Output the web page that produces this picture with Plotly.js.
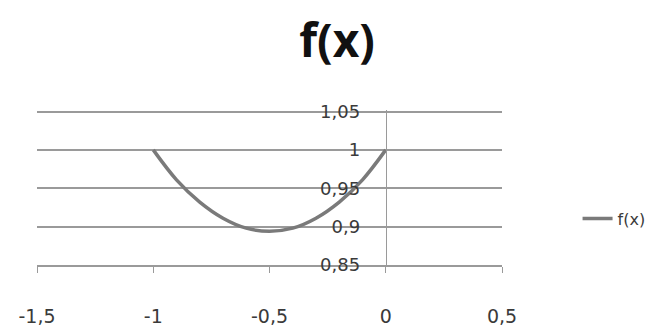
<!DOCTYPE html>
<html>
<head>
<meta charset="utf-8">
<script src="https://cdn.plot.ly/plotly-3.0.1.min.js"></script>
<style>html,body{margin:0;padding:0;background:#fff;}#chart{width:661px;height:326px;}</style>
</head>
<body>
<div id="chart"></div>
<script>
// Data
const xValues = [-1, -0.9, -0.8, -0.7, -0.6, -0.5, -0.4, -0.3, -0.2, -0.1, 0];
const fValues = [1, 0.961, 0.932, 0.911, 0.898, 0.894, 0.898, 0.911, 0.932, 0.961, 1];
const seriesName = 'f(x)';
const chartTitle = 'f(x)';
const xTickVals = [-1.5, -1, -0.5, 0, 0.5];
const xTickText = ['-1,5', '-1', '-0,5', '0', '0,5'];
const yTickVals = [0.85, 0.9, 0.95, 1, 1.05];
const yTickText = ['0,85', '0,9', '0,95', '1', '1,05'];

const trace = {
  x: xValues,
  y: fValues,
  name: seriesName,
  type: 'scatter',
  mode: 'lines',
  line: {color: '#7a7a7a', width: 3.5, shape: 'spline', smoothing: 1},
  showlegend: true
};

const layout = {
  width: 661,
  height: 326,
  margin: {l: 37, r: 158, t: 110, b: 61},
  paper_bgcolor: '#ffffff',
  plot_bgcolor: '#ffffff',
  font: {family: 'DejaVu Sans, sans-serif', color: '#3a3a3a', size: 16},
  title: {
    text: chartTitle,
    font: {family: 'Open Sans, sans-serif', size: 46, color: '#111111', weight: 'bold'},
    x: 0.51, xref: 'container', xanchor: 'center',
    y: 1 - 41/326, yref: 'container', yanchor: 'middle'
  },
  xaxis: {
    range: [-1.5, 0.5],
    tickvals: xTickVals,
    ticktext: xTickText,
    showgrid: false,
    zeroline: false,
    showline: true,
    linecolor: '#9a9a9a',
    linewidth: 2,
    ticks: 'outside',
    ticklen: 6,
    tickwidth: 1,
    tickcolor: '#9a9a9a',
    ticklabelstandoff: 27,
    tickfont: {size: 19, color: '#3a3a3a'}
  },
  yaxis: {
    range: [0.85, 1.052],
    tickvals: yTickVals,
    ticktext: yTickText,
    anchor: 'free',
    position: 0.75,
    showgrid: true,
    gridcolor: '#9a9a9a',
    gridwidth: 2,
    zeroline: false,
    showline: true,
    linecolor: '#9a9a9a',
    linewidth: 1,
    ticks: '',
    ticklabelstandoff: 22,
    tickfont: {size: 18, color: '#3a3a3a'}
  },
  showlegend: true,
  legend: {
    x: 1.16, xanchor: 'left',
    y: 0.30, yanchor: 'middle',
    font: {size: 16, color: '#3a3a3a'},
    bgcolor: 'rgba(0,0,0,0)'
  }
};

Plotly.newPlot('chart', [trace], layout, {displayModeBar: false, staticPlot: true});
</script>
</body>
</html>
